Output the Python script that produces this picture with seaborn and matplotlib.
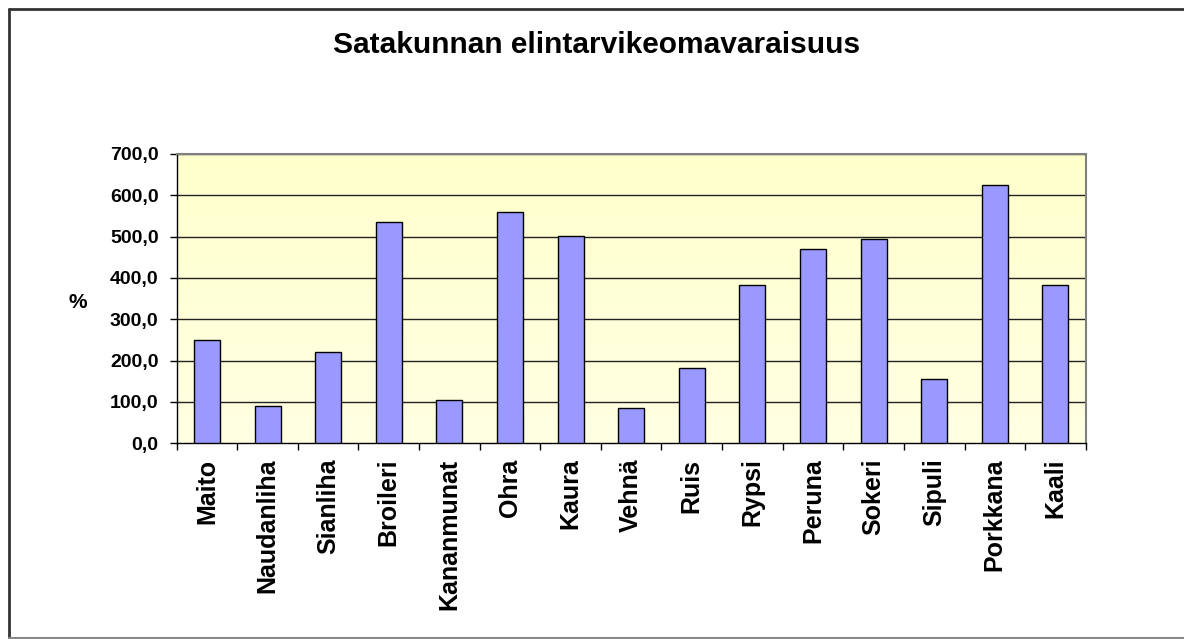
import numpy as np
import matplotlib
matplotlib.use('Agg')
import matplotlib.pyplot as plt
import seaborn as sns
import pandas as pd
from matplotlib.lines import Line2D
from matplotlib.ticker import FuncFormatter, FixedLocator

categories = ['Maito', 'Naudanliha', 'Sianliha', 'Broileri', 'Kananmunat', 'Ohra',
              'Kaura', 'Vehnä', 'Ruis', 'Rypsi', 'Peruna', 'Sokeri', 'Sipuli',
              'Porkkana', 'Kaali']
values = [251, 89, 221, 535, 105, 560, 501, 86, 183, 382, 471, 495, 156, 624, 382]
y_ticks = [0, 100, 200, 300, 400, 500, 600, 700]

title = 'Satakunnan elintarvikeomavaraisuus'
y_label = '%'

sns.set_theme(style='white')
plt.rcParams['font.family'] = ['Liberation Sans', 'DejaVu Sans']
plt.rcParams['text.color'] = 'black'
plt.rcParams['xtick.color'] = 'black'
plt.rcParams['ytick.color'] = 'black'

df = pd.DataFrame({'cat': categories, 'val': values})

fig = plt.figure(figsize=(11.84, 6.39), dpi=100)
ax = fig.add_axes([0.1492, 0.3063, 0.9170 - 0.1492, 0.759 - 0.3063])

# pale yellow gradient background of the plot area
grad = np.linspace(0, 1, 256).reshape(-1, 1)
cmap = matplotlib.colors.LinearSegmentedColormap.from_list('bg', ['#FFFFCC', '#FFFFE3'])
ax.imshow(grad, extent=[0, 1, 0, 1], transform=ax.transAxes, cmap=cmap,
          aspect='auto', zorder=0, origin='upper')

sns.barplot(data=df, x='cat', y='val', color='#9999FF', edgecolor='black',
            linewidth=1, width=0.43, saturation=1, ax=ax, zorder=3)

ax.set_xlim(-0.5, len(categories) - 0.5)
ax.set_ylim(0, 700)
ax.set_yticks(y_ticks)
ax.yaxis.set_major_formatter(FuncFormatter(lambda v, p: f'{v:.1f}'.replace('.', ',')))
for t in y_ticks[1:]:
    ax.axhline(t, color='#222222', lw=1, zorder=1)

ax.set_xlabel('')
ax.set_ylabel('')
ax.tick_params(axis='x', which='major', length=0, pad=11)
ax.xaxis.set_minor_locator(FixedLocator(np.arange(-0.5, len(categories), 1.0)))
ax.tick_params(axis='x', which='minor', length=5, width=1, color='black', direction='out', bottom=True)
ax.tick_params(axis='y', length=5, width=1, color='black', direction='out', left=True, pad=8)
for lab in ax.get_xticklabels():
    lab.set_rotation(90)
    lab.set_fontsize(18)
    lab.set_fontweight('bold')
    lab.set_va('top')
    lab.set_color('black')
for lab in ax.get_yticklabels():
    lab.set_fontsize(14)
    lab.set_fontweight('bold')
    lab.set_color('black')

for s in ['left', 'bottom']:
    ax.spines[s].set_color('black')
    ax.spines[s].set_linewidth(1)
for s in ['top', 'right']:
    ax.spines[s].set_color('#808080')
    ax.spines[s].set_linewidth(1.5)

fig.text(0.504, 0.929, title, ha='center', va='center', fontsize=21.5,
         fontweight='bold', color='black')
fig.text(0.066, 0.527, y_label, ha='center', va='center', fontsize=15,
         fontweight='bold', color='black')

# chart frame (cut at the right edge)
fig.add_artist(Line2D([9 / 1184, 9 / 1184], [1 - 9 / 639, 0], color='#333333', lw=2))
fig.add_artist(Line2D([9 / 1184, 1], [1 - 9 / 639, 1 - 9 / 639], color='#333333', lw=2))
fig.add_artist(Line2D([9 / 1184, 1], [1.5 / 639, 1.5 / 639], color='#888888', lw=1.5))

fig.savefig('out.png', dpi=100)
